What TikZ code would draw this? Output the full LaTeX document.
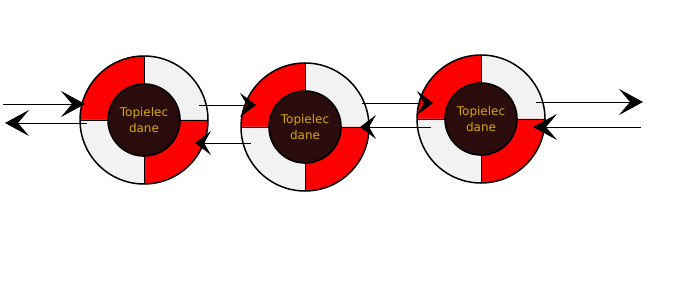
\documentclass[tikz,border=0pt]{standalone}
\usepackage{fontspec}
\setmainfont{DejaVu Sans}
\usepackage{xcolor}
\usepackage{tikz}
\usetikzlibrary{arrows.meta}
\usetikzlibrary{calc}

\definecolor{buoyred}{HTML}{FF0000}
\definecolor{buoygray}{HTML}{F2F2F2}
\definecolor{buoycore}{HTML}{2B0C0C}
\definecolor{buoytext}{HTML}{D4AA00}

\tikzset{
    core/.style={circle, draw=black, line width=1.6pt, fill=buoycore,
        minimum size=72pt, inner sep=0pt, align=center,
        text=buoytext, font=\fontsize{12}{16}\selectfont},
    flow/.style={draw=black, line width=0.9pt},
    bighead/.style={-{Stealth[length=24pt,width=26pt,inset=11pt]}},
    smallhead/.style={-{Stealth[length=16pt,width=24pt,inset=7pt]}}
}

\begin{document}
\begin{tikzpicture}[x=1pt,y=1pt]
        \useasboundingbox (0,0) rectangle (700,300);
        % three life buoys
        \foreach \name/\cx/\cy in {b1/144/180, b2/305/173, b3/481/181} {
            \coordinate (\name) at (\cx,\cy);
            \fill[buoyred] (\name) -- ++(180:64pt) arc[start angle=180,end angle=90,radius=64pt] -- cycle;
            \fill[buoygray] (\name) -- ++(90:64pt) arc[start angle=90,end angle=0,radius=64pt] -- cycle;
            \fill[buoyred] (\name) -- ++(0:64pt) arc[start angle=0,end angle=-90,radius=64pt] -- cycle;
            \fill[buoygray] (\name) -- ++(-90:64pt) arc[start angle=-90,end angle=-180,radius=64pt] -- cycle;
            \draw[line width=0.9pt] ($(\name)+(-64,0)$) -- ($(\name)+(64,0)$);
            \draw[line width=0.9pt] ($(\name)+(0,-64)$) -- ($(\name)+(0,64)$);
            \draw[line width=1.5pt] (\name) circle[radius=64pt];
            \node[core] (\name c) at (\name) {Topielec\\dane};
        }
        % arrow ends
        \coordinate (inL) at (3,196);
        \coordinate (inR) at (85,196);
        \coordinate (outA) at (87,177);
        \coordinate (outB) at (5,177);
        \coordinate (p12a) at (199,195);
        \coordinate (p12b) at (256,195);
        \coordinate (p21a) at (251,157);
        \coordinate (p21b) at (195,157);
        \coordinate (p23a) at (362,197);
        \coordinate (p23b) at (433,197);
        \coordinate (p32a) at (431,173);
        \coordinate (p32b) at (360,173);
        \coordinate (endA) at (536,198);
        \coordinate (endB) at (643,198);
        \coordinate (backA) at (641,173);
        \coordinate (backB) at (533,173);
        % arrows
        \draw[flow, bighead] (inL) -- (inR);
        \draw[flow, bighead] (outA) -- (outB);
        \draw[flow, smallhead] (p12a) -- (p12b);
        \draw[flow, smallhead] (p21a) -- (p21b);
        \draw[flow, smallhead] (p23a) -- (p23b);
        \draw[flow, smallhead] (p32a) -- (p32b);
        \draw[flow, bighead] (endA) -- (endB);
        \draw[flow, bighead] (backA) -- (backB);
    \end{tikzpicture}
\end{document}
